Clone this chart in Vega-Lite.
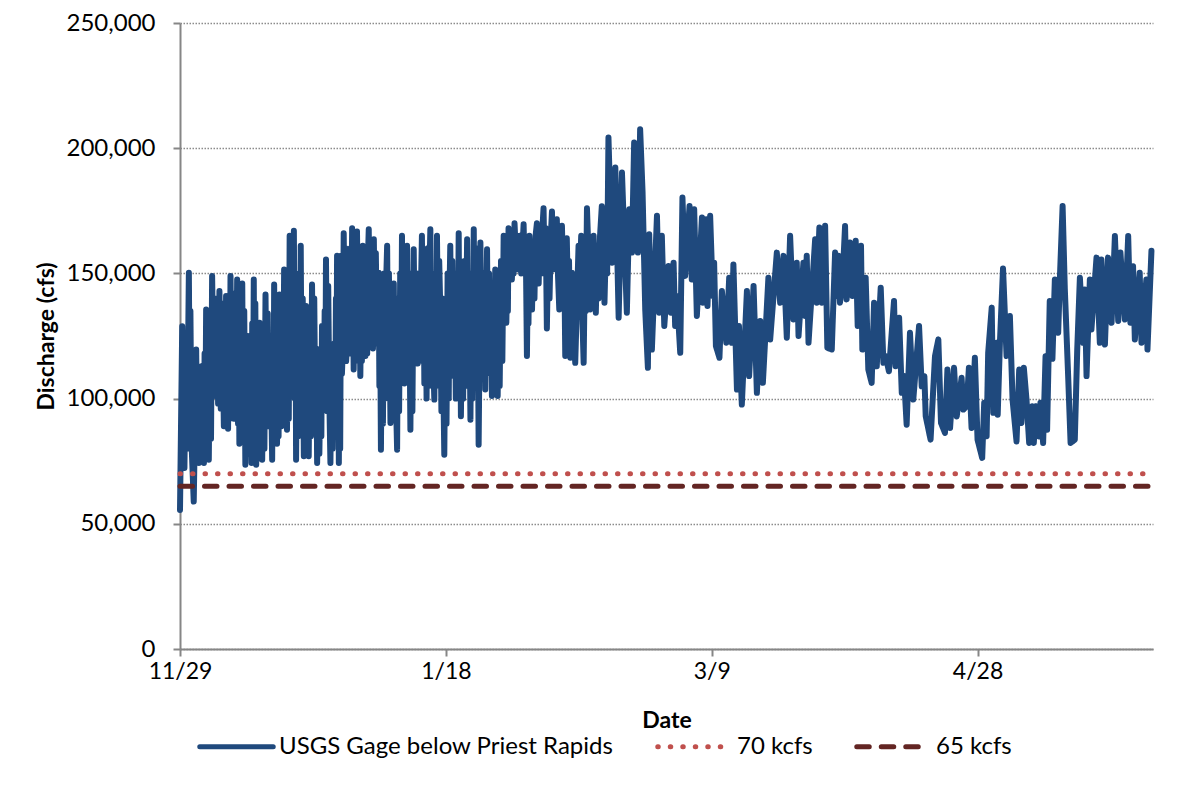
{
"$schema":"https://vega.github.io/schema/vega-lite/v6.json",
"width":973,"height":626,
"autosize":{"type":"none"},
"padding":{"left":180,"top":23,"right":35,"bottom":137},
"background":"white",
"config":{"font":"Lato","view":{"stroke":null}},
"datasets":{
"flow":[
{"t":"2010-11-29T00:00","q":55500},{"t":"2010-11-29T10:00","q":128900},{"t":"2010-11-29T20:00","q":72300},{"t":"2010-11-30T16:00","q":150300},
{"t":"2010-12-01T04:00","q":82300},{"t":"2010-12-01T14:00","q":58900},{"t":"2010-12-02T01:00","q":119600},{"t":"2010-12-02T13:00","q":74300},
{"t":"2010-12-03T01:00","q":112900},{"t":"2010-12-03T12:00","q":74300},{"t":"2010-12-03T22:00","q":135600},{"t":"2010-12-04T10:00","q":75600},
{"t":"2010-12-05T01:00","q":149000},{"t":"2010-12-05T19:00","q":101000},{"t":"2010-12-06T10:00","q":143000},{"t":"2010-12-07T06:00","q":89000},
{"t":"2010-12-07T16:00","q":141000},{"t":"2010-12-08T01:00","q":88000},{"t":"2010-12-08T12:00","q":149000},{"t":"2010-12-09T03:00","q":92000},
{"t":"2010-12-09T18:00","q":147600},{"t":"2010-12-10T04:00","q":82000},{"t":"2010-12-10T17:00","q":146000},{"t":"2010-12-11T07:00","q":73600},
{"t":"2010-12-11T18:00","q":125000},{"t":"2010-12-12T11:00","q":74300},{"t":"2010-12-12T21:00","q":147600},{"t":"2010-12-13T08:00","q":73600},
{"t":"2010-12-13T23:00","q":130300},{"t":"2010-12-14T11:00","q":75600},{"t":"2010-12-15T02:00","q":141600},{"t":"2010-12-15T17:00","q":89000},
{"t":"2010-12-16T08:00","q":75600},{"t":"2010-12-16T17:00","q":145600},{"t":"2010-12-17T06:00","q":82000},{"t":"2010-12-17T17:00","q":141600},
{"t":"2010-12-18T02:00","q":89000},{"t":"2010-12-18T14:00","q":151600},{"t":"2010-12-19T03:00","q":87600},{"t":"2010-12-19T15:00","q":165000},
{"t":"2010-12-19T23:00","q":121000},{"t":"2010-12-20T10:00","q":167000},{"t":"2010-12-20T20:00","q":75600},{"t":"2010-12-21T17:00","q":161000},
{"t":"2010-12-22T07:00","q":77000},{"t":"2010-12-22T17:00","q":137000},{"t":"2010-12-23T05:00","q":77000},{"t":"2010-12-23T20:00","q":145600},
{"t":"2010-12-24T19:00","q":74300},{"t":"2010-12-25T17:00","q":129000},{"t":"2010-12-26T01:00","q":95600},{"t":"2010-12-26T11:00","q":155600},
{"t":"2010-12-27T07:00","q":74300},{"t":"2010-12-28T00:00","q":122000},{"t":"2010-12-28T13:00","q":157000},{"t":"2010-12-28T21:00","q":74300},
{"t":"2010-12-29T07:00","q":157000},{"t":"2010-12-29T19:00","q":166000},{"t":"2010-12-30T10:00","q":122000},{"t":"2010-12-31T09:00","q":168000},
{"t":"2010-12-31T16:00","q":111600},{"t":"2011-01-01T07:00","q":166700},{"t":"2011-01-01T22:00","q":109000},{"t":"2011-01-02T09:00","q":161000},
{"t":"2011-01-02T21:00","q":117000},{"t":"2011-01-03T12:00","q":167600},{"t":"2011-01-04T00:00","q":122000},{"t":"2011-01-04T11:00","q":163600},
{"t":"2011-01-05T01:00","q":122000},{"t":"2011-01-05T09:00","q":150300},{"t":"2011-01-05T19:00","q":79600},{"t":"2011-01-06T23:00","q":161000},
{"t":"2011-01-07T14:00","q":90300},{"t":"2011-01-08T05:00","q":146000},{"t":"2011-01-08T20:00","q":79600},{"t":"2011-01-09T18:00","q":165000},
{"t":"2011-01-10T05:00","q":106000},{"t":"2011-01-10T17:00","q":161000},{"t":"2011-01-11T08:00","q":87600},{"t":"2011-01-11T23:00","q":159600},
{"t":"2011-01-12T17:00","q":114000},{"t":"2011-01-13T12:00","q":165000},{"t":"2011-01-13T23:00","q":106000},{"t":"2011-01-15T02:00","q":167600},
{"t":"2011-01-15T20:00","q":99600},{"t":"2011-01-16T08:00","q":165000},{"t":"2011-01-16T23:00","q":135600},{"t":"2011-01-17T17:00","q":77600},
{"t":"2011-01-18T20:00","q":161000},{"t":"2011-01-19T11:00","q":109000},{"t":"2011-01-20T10:00","q":166000},{"t":"2011-01-20T20:00","q":93000},
{"t":"2011-01-22T00:00","q":163600},{"t":"2011-01-22T15:00","q":91600},{"t":"2011-01-23T06:00","q":167600},{"t":"2011-01-24T04:00","q":81600},
{"t":"2011-01-24T12:00","q":162300},{"t":"2011-01-25T10:00","q":103600},{"t":"2011-01-25T18:00","q":159600},{"t":"2011-01-26T16:00","q":101000},
{"t":"2011-01-27T07:00","q":151600},{"t":"2011-01-27T18:00","q":101000},{"t":"2011-01-28T21:00","q":165000},{"t":"2011-01-29T09:00","q":130300},
{"t":"2011-01-29T19:00","q":168000},{"t":"2011-01-30T10:00","q":147600},{"t":"2011-01-30T22:00","q":170000},{"t":"2011-01-31T17:00","q":151600},
{"t":"2011-02-01T15:00","q":169600},{"t":"2011-02-02T06:00","q":117000},{"t":"2011-02-02T17:00","q":165000},{"t":"2011-02-03T05:00","q":135600},
{"t":"2011-02-04T03:00","q":170000},{"t":"2011-02-04T11:00","q":146000},{"t":"2011-02-05T09:00","q":176000},{"t":"2011-02-06T00:00","q":128000},
{"t":"2011-02-06T23:00","q":174700},{"t":"2011-02-07T06:00","q":151600},{"t":"2011-02-07T21:00","q":171600},{"t":"2011-02-08T08:00","q":135600},
{"t":"2011-02-08T20:00","q":169000},{"t":"2011-02-09T11:00","q":117000},{"t":"2011-02-09T18:00","q":164000},{"t":"2011-02-10T10:00","q":116300},
{"t":"2011-02-10T17:00","q":150300},{"t":"2011-02-11T08:00","q":114300},{"t":"2011-02-11T23:00","q":161000},{"t":"2011-02-12T22:00","q":114300},
{"t":"2011-02-13T13:00","q":176000},{"t":"2011-02-14T04:00","q":135600},{"t":"2011-02-14T19:00","q":165000},{"t":"2011-02-15T05:00","q":134300},
{"t":"2011-02-16T08:00","q":176800},{"t":"2011-02-16T20:00","q":138300},{"t":"2011-02-17T14:00","q":204300},{"t":"2011-02-18T06:00","q":154300},
{"t":"2011-02-18T21:00","q":192300},{"t":"2011-02-19T12:00","q":132300},{"t":"2011-02-20T03:00","q":190300},{"t":"2011-02-21T01:00","q":134300},
{"t":"2011-02-21T12:00","q":175600},{"t":"2011-02-22T00:00","q":158300},{"t":"2011-02-22T10:00","q":202300},{"t":"2011-02-23T03:00","q":158300},
{"t":"2011-02-23T13:00","q":207600},{"t":"2011-02-24T00:00","q":182300},{"t":"2011-02-24T12:00","q":135600},{"t":"2011-02-25T00:00","q":112300},
{"t":"2011-02-25T06:00","q":165600},{"t":"2011-02-25T18:00","q":119600},{"t":"2011-02-26T17:00","q":173000},{"t":"2011-02-27T03:00","q":134300},
{"t":"2011-02-27T15:00","q":165000},{"t":"2011-02-28T02:00","q":129000},{"t":"2011-02-28T21:00","q":153000},{"t":"2011-03-01T08:00","q":134300},
{"t":"2011-03-01T20:00","q":154300},{"t":"2011-03-02T03:00","q":129000},{"t":"2011-03-02T11:00","q":141000},{"t":"2011-03-03T02:00","q":118300},
{"t":"2011-03-03T12:00","q":180300},{"t":"2011-03-04T00:00","q":149000},{"t":"2011-03-04T20:00","q":176900},{"t":"2011-03-05T06:00","q":147600},
{"t":"2011-03-05T17:00","q":175600},{"t":"2011-03-06T05:00","q":133000},{"t":"2011-03-07T04:00","q":172300},{"t":"2011-03-07T08:00","q":138300},
{"t":"2011-03-07T23:00","q":171600},{"t":"2011-03-08T05:00","q":137000},{"t":"2011-03-08T17:00","q":173000},{"t":"2011-03-09T05:00","q":141000},
{"t":"2011-03-09T11:00","q":154300},{"t":"2011-03-09T19:00","q":121000},{"t":"2011-03-10T11:00","q":116300},{"t":"2011-03-10T22:00","q":143000},
{"t":"2011-03-11T18:00","q":122300},{"t":"2011-03-12T07:00","q":148300},{"t":"2011-03-12T19:00","q":122300},{"t":"2011-03-13T02:00","q":153600},
{"t":"2011-03-13T18:00","q":103600},{"t":"2011-03-14T03:00","q":129000},{"t":"2011-03-14T16:00","q":97600},{"t":"2011-03-15T15:00","q":143000},
{"t":"2011-03-16T01:00","q":109000},{"t":"2011-03-16T21:00","q":145000},{"t":"2011-03-17T12:00","q":102300},{"t":"2011-03-18T03:00","q":131000},
{"t":"2011-03-18T15:00","q":106300},{"t":"2011-03-19T16:00","q":148300},{"t":"2011-03-20T00:00","q":123600},{"t":"2011-03-21T06:00","q":158300},
{"t":"2011-03-21T21:00","q":138300},{"t":"2011-03-22T12:00","q":157000},{"t":"2011-03-23T03:00","q":124300},{"t":"2011-03-23T18:00","q":165000},
{"t":"2011-03-24T09:00","q":131600},{"t":"2011-03-25T00:00","q":154300},{"t":"2011-03-25T08:00","q":125000},{"t":"2011-03-26T06:00","q":154300},
{"t":"2011-03-26T14:00","q":133000},{"t":"2011-03-26T21:00","q":157000},{"t":"2011-03-27T05:00","q":122300},{"t":"2011-03-28T11:00","q":163600},
{"t":"2011-03-28T18:00","q":138300},{"t":"2011-03-29T06:00","q":168300},{"t":"2011-03-29T17:00","q":138300},{"t":"2011-03-30T08:00","q":169000},
{"t":"2011-03-30T18:00","q":120300},{"t":"2011-03-31T14:00","q":119600},{"t":"2011-04-01T05:00","q":158300},{"t":"2011-04-01T13:00","q":141000},
{"t":"2011-04-01T20:00","q":157000},{"t":"2011-04-02T03:00","q":138300},{"t":"2011-04-02T14:00","q":146300},{"t":"2011-04-03T02:00","q":168900},
{"t":"2011-04-03T09:00","q":139600},{"t":"2011-04-04T00:00","q":162300},{"t":"2011-04-04T11:00","q":141000},{"t":"2011-04-05T02:00","q":163000},
{"t":"2011-04-05T11:00","q":129000},{"t":"2011-04-06T02:00","q":161000},{"t":"2011-04-06T08:00","q":119600},{"t":"2011-04-06T23:00","q":148300},
{"t":"2011-04-07T11:00","q":111600},{"t":"2011-04-08T02:00","q":106300},{"t":"2011-04-08T13:00","q":138300},{"t":"2011-04-09T01:00","q":112900},
{"t":"2011-04-09T19:00","q":144300},{"t":"2011-04-10T07:00","q":114300},{"t":"2011-04-10T17:00","q":117000},{"t":"2011-04-11T08:00","q":110900},
{"t":"2011-04-12T07:00","q":139000},{"t":"2011-04-12T14:00","q":112900},{"t":"2011-04-13T06:00","q":132300},{"t":"2011-04-13T18:00","q":102300},
{"t":"2011-04-14T04:00","q":109000},{"t":"2011-04-14T16:00","q":89600},{"t":"2011-04-15T07:00","q":126300},{"t":"2011-04-15T22:00","q":99600},
{"t":"2011-04-17T00:00","q":129000},{"t":"2011-04-17T12:00","q":104900},{"t":"2011-04-18T00:00","q":109000},{"t":"2011-04-18T06:00","q":93000},
{"t":"2011-04-19T04:00","q":83600},{"t":"2011-04-20T00:00","q":117000},{"t":"2011-04-20T15:00","q":123600},{"t":"2011-04-21T03:00","q":90300},
{"t":"2011-04-21T21:00","q":86300},{"t":"2011-04-22T08:00","q":111600},{"t":"2011-04-22T20:00","q":88300},{"t":"2011-04-23T14:00","q":112300},
{"t":"2011-04-24T02:00","q":92900},{"t":"2011-04-25T00:00","q":108300},{"t":"2011-04-25T08:00","q":95600},{"t":"2011-04-25T23:00","q":97000},
{"t":"2011-04-26T09:00","q":112300},{"t":"2011-04-26T21:00","q":88300},{"t":"2011-04-27T12:00","q":116300},{"t":"2011-04-28T00:00","q":83600},
{"t":"2011-04-28T21:00","q":76300},{"t":"2011-04-29T06:00","q":98300},{"t":"2011-04-29T17:00","q":85000},{"t":"2011-04-30T00:00","q":118300},
{"t":"2011-04-30T16:00","q":136300},{"t":"2011-04-30T23:00","q":94300},{"t":"2011-05-01T14:00","q":122300},{"t":"2011-05-01T19:00","q":93600},
{"t":"2011-05-02T05:00","q":122300},{"t":"2011-05-02T19:00","q":152000},{"t":"2011-05-03T11:00","q":117000},{"t":"2011-05-04T02:00","q":133000},
{"t":"2011-05-04T14:00","q":99600},{"t":"2011-05-05T08:00","q":82900},{"t":"2011-05-05T20:00","q":111600},{"t":"2011-05-06T06:00","q":90300},
{"t":"2011-05-06T17:00","q":112300},{"t":"2011-05-07T05:00","q":99600},{"t":"2011-05-07T17:00","q":82300},{"t":"2011-05-08T07:00","q":96900},
{"t":"2011-05-08T14:00","q":82300},{"t":"2011-05-08T23:00","q":96900},{"t":"2011-05-09T14:00","q":84900},{"t":"2011-05-09T20:00","q":98300},
{"t":"2011-05-10T08:00","q":82300},{"t":"2011-05-10T19:00","q":116900},{"t":"2011-05-11T02:00","q":87600},{"t":"2011-05-11T14:00","q":139000},
{"t":"2011-05-12T02:00","q":115900},{"t":"2011-05-12T13:00","q":147600},{"t":"2011-05-13T04:00","q":126300},{"t":"2011-05-13T12:00","q":149000},
{"t":"2011-05-14T00:00","q":176900},{"t":"2011-05-14T10:00","q":143600},{"t":"2011-05-15T01:00","q":109000},{"t":"2011-05-15T12:00","q":82300},
{"t":"2011-05-16T07:00","q":83600},{"t":"2011-05-16T18:00","q":119600},{"t":"2011-05-17T06:00","q":148300},{"t":"2011-05-17T21:00","q":122300},
{"t":"2011-05-18T04:00","q":143600},{"t":"2011-05-18T12:00","q":109000},{"t":"2011-05-19T03:00","q":147600},{"t":"2011-05-19T10:00","q":127600},
{"t":"2011-05-20T09:00","q":156300},{"t":"2011-05-21T00:00","q":122300},{"t":"2011-05-21T07:00","q":155600},{"t":"2011-05-21T23:00","q":121600},
{"t":"2011-05-22T13:00","q":156300},{"t":"2011-05-23T05:00","q":130300},{"t":"2011-05-23T20:00","q":164900},{"t":"2011-05-24T11:00","q":131000},
{"t":"2011-05-24T21:00","q":158300},{"t":"2011-05-25T17:00","q":131600},{"t":"2011-05-26T08:00","q":164900},{"t":"2011-05-26T18:00","q":130300},
{"t":"2011-05-27T06:00","q":152900},{"t":"2011-05-27T14:00","q":123600},{"t":"2011-05-28T12:00","q":150300},{"t":"2011-05-28T20:00","q":122300},
{"t":"2011-05-29T18:00","q":147600},{"t":"2011-05-29T23:00","q":119600},{"t":"2011-05-30T17:00","q":159000},
{"t":"2010-11-30T02:00","q":118000},{"t":"2010-11-30T08:00","q":80000},{"t":"2010-11-30T20:00","q":95000},{"t":"2010-11-30T23:00","q":135000},
{"t":"2010-12-02T05:00","q":85000},{"t":"2010-12-02T09:00","q":112000},{"t":"2010-12-02T17:00","q":104000},{"t":"2010-12-02T21:00","q":78000},
{"t":"2010-12-03T05:00","q":80000},{"t":"2010-12-03T08:00","q":108000},{"t":"2010-12-03T15:00","q":118000},{"t":"2010-12-03T18:00","q":82000},
{"t":"2010-12-04T02:00","q":92000},{"t":"2010-12-04T06:00","q":128000},{"t":"2010-12-04T15:00","q":125000},{"t":"2010-12-04T20:00","q":84000},
{"t":"2010-12-05T07:00","q":108000},{"t":"2010-12-05T13:00","q":140000},{"t":"2010-12-05T23:00","q":132000},{"t":"2010-12-06T04:00","q":98000},
{"t":"2010-12-06T16:00","q":96000},{"t":"2010-12-06T22:00","q":138000},{"t":"2010-12-07T09:00","q":122000},{"t":"2010-12-07T12:00","q":93000},
{"t":"2010-12-07T19:00","q":98000},{"t":"2010-12-07T22:00","q":132000},{"t":"2010-12-08T04:00","q":126000},{"t":"2010-12-08T08:00","q":92000},
{"t":"2010-12-08T17:00","q":100000},{"t":"2010-12-08T22:00","q":142000},{"t":"2010-12-09T08:00","q":138000},{"t":"2010-12-09T13:00","q":96000},
{"t":"2010-12-09T22:00","q":90000},{"t":"2010-12-10T01:00","q":130000},{"t":"2010-12-10T08:00","q":128000},{"t":"2010-12-10T12:00","q":86000},
{"t":"2010-12-10T21:00","q":84000},{"t":"2010-12-11T02:00","q":135000},{"t":"2010-12-11T11:00","q":112000},{"t":"2010-12-11T14:00","q":78000},
{"t":"2010-12-11T23:00","q":80000},{"t":"2010-12-12T05:00","q":118000},{"t":"2010-12-12T14:00","q":130000},{"t":"2010-12-12T17:00","q":80000},
{"t":"2010-12-13T00:00","q":88000},{"t":"2010-12-13T04:00","q":138000},{"t":"2010-12-13T12:00","q":120000},{"t":"2010-12-13T17:00","q":76000},
{"t":"2010-12-14T03:00","q":82000},{"t":"2010-12-14T07:00","q":122000},{"t":"2010-12-14T16:00","q":128000},{"t":"2010-12-14T21:00","q":80000},
{"t":"2010-12-15T07:00","q":95000},{"t":"2010-12-15T12:00","q":134000},{"t":"2010-12-16T00:00","q":125000},
{"t":"2010-12-16T11:00","q":120000},{"t":"2010-12-16T14:00","q":82000},{"t":"2010-12-16T21:00","q":90000},{"t":"2010-12-17T01:00","q":138000},
{"t":"2010-12-17T10:00","q":125000},{"t":"2010-12-17T13:00","q":85000},{"t":"2010-12-17T20:00","q":95000},{"t":"2010-12-17T23:00","q":132000},
{"t":"2010-12-18T06:00","q":130000},{"t":"2010-12-18T10:00","q":92000},{"t":"2010-12-18T18:00","q":96000},{"t":"2010-12-18T22:00","q":145000},
{"t":"2010-12-19T07:00","q":130000},{"t":"2010-12-19T11:00","q":92000},{"t":"2010-12-19T19:00","q":140000},
{"t":"2010-12-20T03:00","q":150000},{"t":"2010-12-20T06:00","q":110000},{"t":"2010-12-20T14:00","q":100000},{"t":"2010-12-20T17:00","q":150000},
{"t":"2010-12-21T01:00","q":130000},{"t":"2010-12-21T06:00","q":85000},{"t":"2010-12-21T11:00","q":150000},{"t":"2010-12-21T14:00","q":100000},
{"t":"2010-12-21T21:00","q":95000},{"t":"2010-12-22T02:00","q":140000},{"t":"2010-12-22T11:00","q":120000},{"t":"2010-12-22T14:00","q":82000},
{"t":"2010-12-22T21:00","q":88000},{"t":"2010-12-23T01:00","q":130000},{"t":"2010-12-23T10:00","q":125000},{"t":"2010-12-23T15:00","q":85000},
{"t":"2010-12-24T01:00","q":95000},{"t":"2010-12-24T06:00","q":140000},{"t":"2010-12-24T11:00","q":90000},{"t":"2010-12-24T15:00","q":120000},
{"t":"2010-12-25T00:00","q":110000},{"t":"2010-12-25T05:00","q":78000},{"t":"2010-12-25T11:00","q":115000},{"t":"2010-12-25T14:00","q":85000},
{"t":"2010-12-25T21:00","q":120000},{"t":"2010-12-26T05:00","q":135000},{"t":"2010-12-26T08:00","q":100000},
{"t":"2010-12-26T16:00","q":95000},{"t":"2010-12-26T21:00","q":145000},{"t":"2010-12-27T02:00","q":100000},
{"t":"2010-12-27T12:00","q":120000},{"t":"2010-12-27T17:00","q":80000},{"t":"2010-12-27T21:00","q":110000},
{"t":"2010-12-28T04:00","q":85000},{"t":"2010-12-28T08:00","q":140000},{"t":"2010-12-28T10:00","q":100000},
{"t":"2010-12-28T16:00","q":110000},{"t":"2010-12-28T18:00","q":150000},{"t":"2010-12-29T00:00","q":130000},{"t":"2010-12-29T03:00","q":80000},
{"t":"2010-12-29T11:00","q":110000},{"t":"2010-12-29T15:00","q":120000},{"t":"2010-12-29T23:00","q":130000},{"t":"2010-12-30T03:00","q":160000},{"t":"2010-12-30T06:00","q":115000},
{"t":"2010-12-30T15:00","q":155000},{"t":"2010-12-30T20:00","q":118000},{"t":"2010-12-31T02:00","q":160000},{"t":"2010-12-31T05:00","q":125000},
{"t":"2010-12-31T20:00","q":150000},{"t":"2010-12-31T23:00","q":115000},{"t":"2011-01-01T03:00","q":158000},
{"t":"2011-01-01T12:00","q":120000},{"t":"2011-01-01T16:00","q":155000},{"t":"2011-01-02T02:00","q":145000},{"t":"2011-01-02T05:00","q":115000},
{"t":"2011-01-02T13:00","q":125000},{"t":"2011-01-02T17:00","q":158000},{"t":"2011-01-03T01:00","q":150000},{"t":"2011-01-03T05:00","q":118000},{"t":"2011-01-03T08:00","q":155000},
{"t":"2011-01-03T16:00","q":125000},{"t":"2011-01-03T20:00","q":160000},{"t":"2011-01-04T04:00","q":150000},{"t":"2011-01-04T07:00","q":120000},
{"t":"2011-01-04T15:00","q":130000},{"t":"2011-01-04T20:00","q":158000},{"t":"2011-01-05T12:00","q":105000},{"t":"2011-01-05T15:00","q":140000},
{"t":"2011-01-05T23:00","q":130000},{"t":"2011-01-06T04:00","q":90000},{"t":"2011-01-06T09:00","q":150000},{"t":"2011-01-06T14:00","q":100000},{"t":"2011-01-06T18:00","q":145000},
{"t":"2011-01-07T03:00","q":110000},{"t":"2011-01-07T07:00","q":150000},{"t":"2011-01-07T11:00","q":120000},
{"t":"2011-01-07T18:00","q":130000},{"t":"2011-01-07T22:00","q":95000},{"t":"2011-01-08T01:00","q":125000},
{"t":"2011-01-08T09:00","q":100000},{"t":"2011-01-08T13:00","q":140000},{"t":"2011-01-08T16:00","q":95000},
{"t":"2011-01-09T00:00","q":140000},{"t":"2011-01-09T05:00","q":95000},{"t":"2011-01-09T10:00","q":150000},{"t":"2011-01-09T14:00","q":110000},
{"t":"2011-01-09T21:00","q":115000},{"t":"2011-01-10T01:00","q":155000},{"t":"2011-01-10T09:00","q":140000},{"t":"2011-01-10T13:00","q":110000},
{"t":"2011-01-10T21:00","q":110000},{"t":"2011-01-11T02:00","q":150000},{"t":"2011-01-11T12:00","q":140000},{"t":"2011-01-11T17:00","q":95000},
{"t":"2011-01-12T04:00","q":120000},{"t":"2011-01-12T09:00","q":150000},{"t":"2011-01-12T13:00","q":125000},
{"t":"2011-01-12T21:00","q":150000},{"t":"2011-01-13T02:00","q":115000},{"t":"2011-01-13T07:00","q":140000},
{"t":"2011-01-13T16:00","q":120000},{"t":"2011-01-13T19:00","q":155000},
{"t":"2011-01-14T04:00","q":150000},{"t":"2011-01-14T09:00","q":100000},{"t":"2011-01-14T14:00","q":160000},{"t":"2011-01-14T19:00","q":105000},{"t":"2011-01-14T22:00","q":150000},
{"t":"2011-01-15T07:00","q":110000},{"t":"2011-01-15T11:00","q":150000},{"t":"2011-01-15T15:00","q":115000},
{"t":"2011-01-16T00:00","q":140000},{"t":"2011-01-16T04:00","q":105000},{"t":"2011-01-16T13:00","q":120000},{"t":"2011-01-16T18:00","q":155000},
{"t":"2011-01-17T04:00","q":95000},{"t":"2011-01-17T08:00","q":140000},{"t":"2011-01-17T12:00","q":110000},
{"t":"2011-01-17T22:00","q":130000},{"t":"2011-01-18T03:00","q":90000},{"t":"2011-01-18T08:00","q":150000},{"t":"2011-01-18T13:00","q":100000},{"t":"2011-01-18T16:00","q":140000},
{"t":"2011-01-19T00:00","q":120000},{"t":"2011-01-19T05:00","q":155000},
{"t":"2011-01-19T16:00","q":150000},{"t":"2011-01-19T21:00","q":100000},{"t":"2011-01-20T03:00","q":145000},{"t":"2011-01-20T06:00","q":115000},
{"t":"2011-01-20T13:00","q":120000},{"t":"2011-01-20T16:00","q":155000},
{"t":"2011-01-21T01:00","q":140000},{"t":"2011-01-21T06:00","q":100000},{"t":"2011-01-21T12:00","q":155000},{"t":"2011-01-21T17:00","q":105000},{"t":"2011-01-21T21:00","q":140000},
{"t":"2011-01-22T04:00","q":110000},{"t":"2011-01-22T09:00","q":150000},
{"t":"2011-01-22T19:00","q":140000},{"t":"2011-01-22T23:00","q":100000},{"t":"2011-01-23T03:00","q":135000},
{"t":"2011-01-23T10:00","q":120000},{"t":"2011-01-23T15:00","q":160000},{"t":"2011-01-23T20:00","q":105000},{"t":"2011-01-24T00:00","q":140000},
{"t":"2011-01-24T08:00","q":120000},
{"t":"2011-01-24T17:00","q":115000},{"t":"2011-01-24T21:00","q":150000},{"t":"2011-01-25T03:00","q":110000},{"t":"2011-01-25T07:00","q":145000},
{"t":"2011-01-25T14:00","q":135000},
{"t":"2011-01-25T22:00","q":115000},{"t":"2011-01-26T03:00","q":150000},{"t":"2011-01-26T09:00","q":110000},{"t":"2011-01-26T13:00","q":140000},
{"t":"2011-01-26T20:00","q":140000},{"t":"2011-01-27T00:00","q":105000},{"t":"2011-01-27T04:00","q":125000},
{"t":"2011-01-27T11:00","q":115000},{"t":"2011-01-27T14:00","q":145000},
{"t":"2011-01-27T22:00","q":140000},{"t":"2011-01-28T03:00","q":105000},{"t":"2011-01-28T09:00","q":155000},{"t":"2011-01-28T15:00","q":115000},
{"t":"2011-01-29T02:00","q":150000},{"t":"2011-01-29T13:00","q":150000},{"t":"2011-01-29T16:00","q":135000},
{"t":"2011-01-30T00:00","q":150000},{"t":"2011-01-30T05:00","q":165000},{"t":"2011-01-30T15:00","q":160000},{"t":"2011-01-30T18:00","q":150000},
{"t":"2011-01-31T04:00","q":158000},{"t":"2011-01-31T10:00","q":165000},{"t":"2011-01-31T22:00","q":165000},{"t":"2011-02-01T04:00","q":150000},{"t":"2011-02-01T10:00","q":160000},
{"t":"2011-02-01T20:00","q":150000},{"t":"2011-02-02T01:00","q":160000},{"t":"2011-02-02T10:00","q":150000},{"t":"2011-02-02T13:00","q":130000},
{"t":"2011-02-02T22:00","q":155000},{"t":"2011-02-03T10:00","q":160000},{"t":"2011-02-03T16:00","q":140000},{"t":"2011-02-03T21:00","q":165000},
{"t":"2011-02-04T16:00","q":165000},{"t":"2011-02-04T22:00","q":150000},{"t":"2011-02-05T04:00","q":168000},
{"t":"2011-02-05T14:00","q":150000},{"t":"2011-02-05T19:00","q":168000},{"t":"2011-02-06T06:00","q":160000},{"t":"2011-02-06T12:00","q":140000},{"t":"2011-02-06T18:00","q":165000},
{"t":"2011-02-08T02:00","q":150000},{"t":"2011-02-09T01:00","q":150000},{"t":"2011-02-09T06:00","q":160000},
{"t":"2011-02-09T23:00","q":140000},{"t":"2011-02-10T04:00","q":155000},{"t":"2011-02-10T22:00","q":140000},{"t":"2011-02-11T03:00","q":125000},
{"t":"2011-02-12T05:00","q":150000},{"t":"2011-02-12T11:00","q":165000},{"t":"2011-02-12T17:00","q":130000},
{"t":"2011-02-13T03:00","q":150000},{"t":"2011-02-13T08:00","q":135000},{"t":"2011-02-13T19:00","q":160000},{"t":"2011-02-15T00:00","q":150000},
{"t":"2011-02-15T11:00","q":160000},{"t":"2011-02-15T17:00","q":140000},{"t":"2011-02-16T00:00","q":165000},
{"t":"2011-02-17T02:00","q":160000},{"t":"2011-02-17T08:00","q":150000}
],
"thr":[
{"t":"2010-11-29T00:00","q":70000,"s":"70 kcfs"},{"t":"2011-05-31T00:00","q":70000,"s":"70 kcfs"},
{"t":"2010-11-29T00:00","q":65000,"s":"65 kcfs"},{"t":"2011-05-31T00:00","q":65000,"s":"65 kcfs"}
]
},
"layer":[
{
"data":{"name":"flow"},
"mark":{"type":"line","strokeWidth":6,"strokeJoin":"round","strokeCap":"round"},
"encoding":{
"x":{"field":"t","type":"temporal",
"scale":{"domain":[{"year":2010,"month":11,"date":29},{"year":2011,"month":5,"date":31}]},
"axis":{"title":"Date","values":[{"year":2010,"month":11,"date":29},{"year":2011,"month":1,"date":18},{"year":2011,"month":3,"date":9},{"year":2011,"month":4,"date":28}],
"format":"%-m/%-d","grid":false,"domainColor":"#868686","domainWidth":2,"tickColor":"#868686","tickWidth":2,"tickSize":7,
"labelPadding":4,"labelFontSize":23,"labelColor":"#000","labelFlush":false,"labelFont":"Lato",
"titleFontSize":23,"titleFontWeight":"bold","titleColor":"#000","titlePadding":26,"titleFont":"Lato"}},
"y":{"field":"q","type":"quantitative",
"scale":{"domain":[0,250000],"nice":false},
"axis":{"title":"Discharge (cfs)","values":[0,50000,100000,150000,200000,250000],"format":",.0f",
"grid":true,"gridDash":[1.5,1.5],"gridColor":"#8c8c8c","gridWidth":1.3,
"domainColor":"#868686","domainWidth":2,"tickColor":"#868686","tickWidth":2,"tickSize":7,
"labelPadding":18,"labelFontSize":24,"labelColor":"#000","labelFont":"Lato",
"titleFontSize":23,"titleFontWeight":"bold","titleColor":"#000","titlePadding":8,"titleFont":"Lato"}},
"color":{"datum":"USGS Gage below Priest Rapids","type":"nominal"},
"strokeDash":{"datum":"USGS Gage below Priest Rapids","type":"nominal"}
}
},
{
"data":{"name":"thr"},
"mark":{"type":"line","strokeWidth":5,"strokeCap":"round"},
"encoding":{
"x":{"field":"t","type":"temporal"},
"y":{"field":"q","type":"quantitative"},
"color":{"field":"s","type":"nominal",
"scale":{"domain":["USGS Gage below Priest Rapids","70 kcfs","65 kcfs"],"range":["#1F497D","#C0504D","#632523"]},
"legend":{"title":null,"orient":"none","legendX":17,"legendY":684,"direction":"horizontal",
"symbolType":"stroke","symbolSize":5400,"symbolStrokeWidth":5,"labelFont":"Lato","labelFontSize":24,"labelColor":"#000",
"labelOffset":3,"columnPadding":33,"labelLimit":600,
"encode":{"symbols":{"update":{"strokeCap":{"value":"round"}}}}}},
"strokeDash":{"field":"s","type":"nominal",
"scale":{"domain":["USGS Gage below Priest Rapids","70 kcfs","65 kcfs"],"range":[[1,0],[0.5,12],[12.5,12]]},
"legend":{"title":null,"orient":"none","legendX":17,"legendY":684,"direction":"horizontal",
"symbolType":"stroke","symbolSize":5400,"symbolStrokeWidth":5,"labelFont":"Lato","labelFontSize":24,"labelColor":"#000",
"labelOffset":3,"columnPadding":33,"labelLimit":600,
"encode":{"symbols":{"update":{"strokeCap":{"value":"round"}}}}}}
}
},
{
"mark":{"type":"rule","color":"#868686","strokeWidth":2},
"encoding":{"x":{"datum":{"year":2011,"month":5,"date":31},"type":"temporal"}}
}
]
}
